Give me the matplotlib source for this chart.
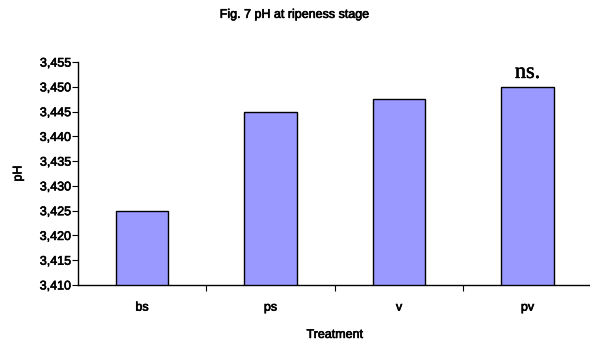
import matplotlib
matplotlib.use("Agg")
import matplotlib.pyplot as plt
import matplotlib.patheffects as pe

categories = ["bs", "ps", "v", "pv"]
values = [3.425, 3.445, 3.4475, 3.450]
yticks = [3.410, 3.415, 3.420, 3.425, 3.430, 3.435, 3.440, 3.445, 3.450, 3.455]
ytick_labels = ["3,410", "3,415", "3,420", "3,425", "3,430", "3,435", "3,440", "3,445", "3,450", "3,455"]

plt.rcParams['font.family'] = ['Liberation Sans', 'DejaVu Sans']
heavy = [pe.withStroke(linewidth=0.45, foreground="black")]

fig = plt.figure(figsize=(5.9, 3.45), dpi=100)
ax = fig.add_axes([0.132, 0.174, 0.871, 0.646])

x = list(range(len(categories)))
ax.bar(x, values, width=0.41, color="#9999FF", edgecolor="black", linewidth=1.0, zorder=2)
ax.set_xlim(-0.5, 3.5)
ax.set_ylim(3.410, 3.455)
ax.set_yticks(yticks)
ax.set_yticklabels(ytick_labels, fontsize=9)
ax.set_xticks([0.5, 1.5, 2.5], minor=False)
ax.set_xticklabels([])
ax.set_xticks(x, minor=True)
ax.set_xticklabels(categories, minor=True, fontsize=9)
ax.tick_params(axis="x", which="minor", length=0, pad=12)
ax.tick_params(axis="x", which="major", length=4, direction="out")
ax.tick_params(axis="y", length=4, direction="out", pad=1)
for s in ["top", "right"]:
    ax.spines[s].set_visible(False)
ax.spines["left"].set_linewidth(1.0)
ax.spines["bottom"].set_linewidth(1.0)

ax.set_xlabel("Treatment", fontsize=9, labelpad=11, path_effects=heavy)
ax.set_ylabel("pH", fontsize=9, labelpad=11, path_effects=heavy)
for lab in ax.get_yticklabels() + ax.get_xticklabels(minor=True):
    lab.set_path_effects(heavy)
fig.text(0.5, 0.957, "Fig. 7 pH at ripeness stage", ha="center", va="center", fontsize=9, path_effects=heavy)
ax.text(3, values[3] + 0.0008, "ns.", ha="center", va="bottom", fontsize=16, family="Liberation Serif",
        path_effects=[pe.withStroke(linewidth=0.35, foreground="black")])

fig.savefig("out.png", dpi=100)
